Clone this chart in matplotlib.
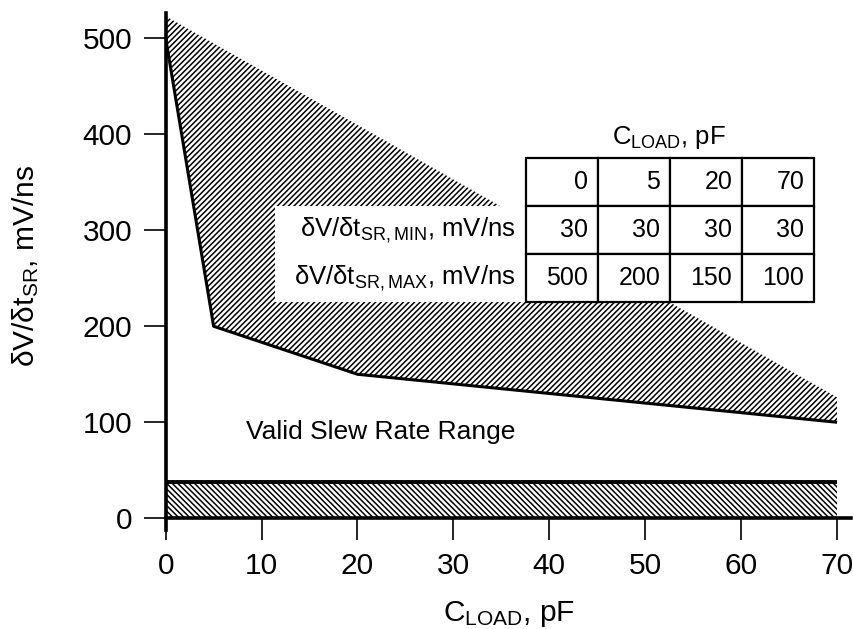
import matplotlib
matplotlib.use("Agg")
import matplotlib.pyplot as plt
import numpy as np

plt.rcParams['font.family'] = ['Liberation Sans', 'DejaVu Sans']
plt.rcParams['mathtext.fontset'] = 'custom'
plt.rcParams['mathtext.rm'] = 'Liberation Sans'
plt.rcParams['mathtext.it'] = 'Liberation Sans'
plt.rcParams['hatch.linewidth'] = 1.1

# table / curve data
c_load = [0, 5, 20, 70]
sr_min = [30, 30, 30, 30]
sr_max = [500, 200, 150, 100]

# outline of the hatched "too fast" area
upper_x = [0, 70]
upper_y = [523, 126]
# drawn level of the minimum slew-rate line
min_line = 38

fig = plt.figure(figsize=(8.54, 6.29), dpi=100)
ax = fig.add_axes([0.194, 0.176, 0.803, 0.803])

# hatched area above the max curve
xs = np.array(c_load, dtype=float)
top = np.interp(xs, upper_x, upper_y)
ax.fill_between(xs, sr_max, top, facecolor='white', edgecolor='black',
                hatch='//////', linewidth=0)
ax.fill_between([0, 70], [0, 0], [min_line, min_line], facecolor='white',
                edgecolor='black', hatch='\\\\\\\\\\\\', linewidth=0)

ax.plot(c_load, sr_max, color='black', lw=2.2, solid_capstyle='butt')
ax.plot([0, 70], [min_line, min_line], color='black', lw=2.8,
        solid_capstyle='butt')

ax.text(8.4, 90, 'Valid Slew Rate Range', fontsize=19, va='center')

# white box behind the row labels
ax.add_patch(plt.Rectangle((11.4, 225), 26.2, 100, facecolor='white',
                           edgecolor='none', zorder=3))
ax.text(36.5, 300, r'δV/δt$_{\mathrm{SR,MIN}}$, mV/ns', ha='right',
        va='center', fontsize=18.5, zorder=4)
ax.text(36.5, 250, r'δV/δt$_{\mathrm{SR,MAX}}$, mV/ns', ha='right',
        va='center', fontsize=18.5, zorder=4)

cells = [[str(v) for v in c_load], [str(v) for v in sr_min],
         [str(v) for v in sr_max]]
tbl = ax.table(cellText=cells, cellLoc='right', bbox=[0.526, 0.428, 0.420, 0.285])
tbl.auto_set_font_size(False)
tbl.set_fontsize(18)
for (r, c), cell in tbl.get_celld().items():
    cell.set_linewidth(1.6)
    cell.set_facecolor('white')
    cell.PAD = 0.14
tbl.set_zorder(5)
ax.text(52.5, 397, r'C$_{\mathrm{LOAD}}$, pF', ha='center', va='center',
        fontsize=18.5)

ax.set_xlim(0, 71.5)
ax.set_ylim(0, 526)
ax.set_xticks(range(0, 80, 10))
ax.set_yticks(range(0, 600, 100))
ax.spines['top'].set_visible(False)
ax.spines['right'].set_visible(False)
ax.spines['left'].set_linewidth(2.6)
ax.spines['bottom'].set_linewidth(2.6)
ax.spines['left'].set_bounds(-12, 526)
ax.tick_params(direction='out', length=16, width=1.2, labelsize=21.5, pad=8)
ax.set_xlabel(r'C$_{\mathrm{LOAD}}$, pF', fontsize=21.5, labelpad=14)
ax.set_ylabel(r'δV/δt$_{\mathrm{SR}}$, mV/ns', fontsize=21.5, labelpad=30)

fig.savefig('out.png', dpi=100)
